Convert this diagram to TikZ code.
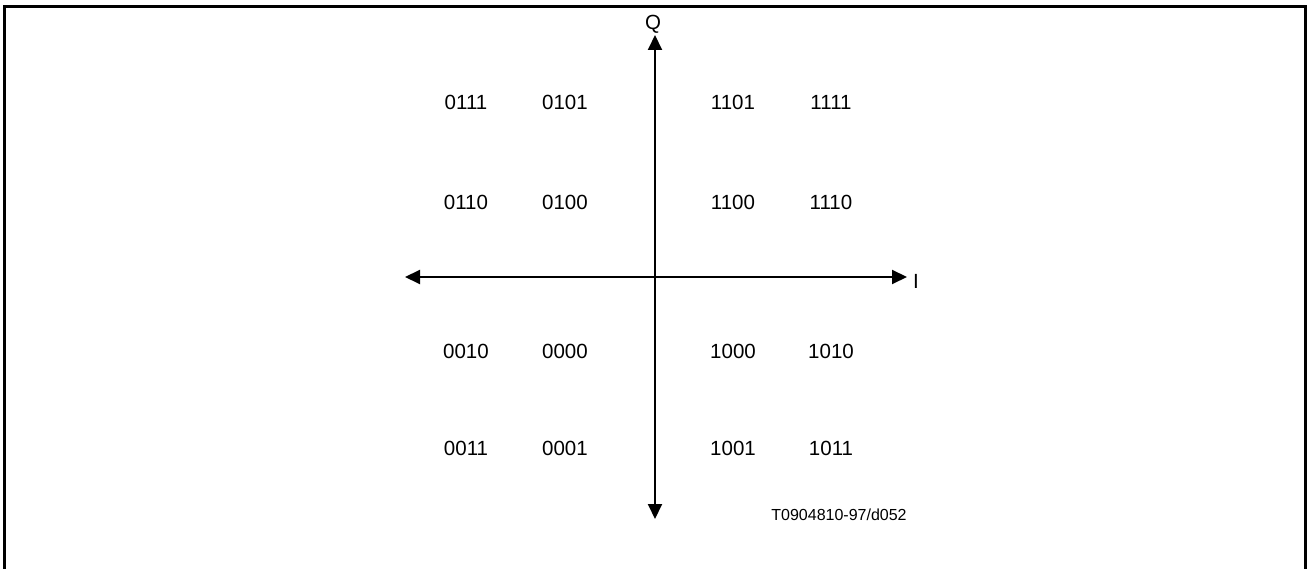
\documentclass[tikz,border=0pt]{standalone}
\usepackage{fontspec}
\setmainfont{Liberation Sans}
\usetikzlibrary{arrows.meta}
\begin{document}
\begin{tikzpicture}[x=1pt,y=-1pt,
  lbl/.style={anchor=base,inner sep=0pt,font=\fontsize{20.5}{24}\selectfont},
  small/.style={anchor=base,inner sep=0pt,font=\fontsize{16}{19}\selectfont},
  axis/.style={line width=2pt,{Triangle[length=15pt,width=14pt]}-{Triangle[length=15pt,width=14pt]}},
  frame/.style={line width=3pt}]
\useasboundingbox (0,0) rectangle (1307,569);
% frame
\coordinate (fbl) at (4,572);
\coordinate (ftl) at (4,6.5);
\coordinate (ftr) at (1305,6.5);
\coordinate (fbr) at (1305,572);
\draw[frame] (fbl) -- (ftl) -- (ftr) -- (fbr);
% axes
\coordinate (qtop) at (655,35);
\coordinate (qbot) at (655,519);
\coordinate (ileft) at (405,277);
\coordinate (iright) at (907,277);
\draw[axis] (qbot) -- (qtop);
\draw[axis] (ileft) -- (iright);
\node[lbl] (Q) at (653,29.5) {Q};
\node[lbl] (I) at (916,289) {I};
% constellation points
\node[lbl] (p0111) at (466,110) {0111};
\node[lbl] (p0101) at (565,110) {0101};
\node[lbl] (p1101) at (733,110) {1101};
\node[lbl] (p1111) at (831,110) {1111};
\node[lbl] (p0110) at (466,209.3) {0110};
\node[lbl] (p0100) at (565,209.3) {0100};
\node[lbl] (p1100) at (733,209.3) {1100};
\node[lbl] (p1110) at (831,209.3) {1110};
\node[lbl] (p0010) at (466,359) {0010};
\node[lbl] (p0000) at (565,359) {0000};
\node[lbl] (p1000) at (733,359) {1000};
\node[lbl] (p1010) at (831,359) {1010};
\node[lbl] (p0011) at (466,455) {0011};
\node[lbl] (p0001) at (565,455) {0001};
\node[lbl] (p1001) at (733,455) {1001};
\node[lbl] (p1011) at (831,455) {1011};
\node[small] (ref) at (839,520) {T0904810-97/d052};
\end{tikzpicture}
\end{document}
